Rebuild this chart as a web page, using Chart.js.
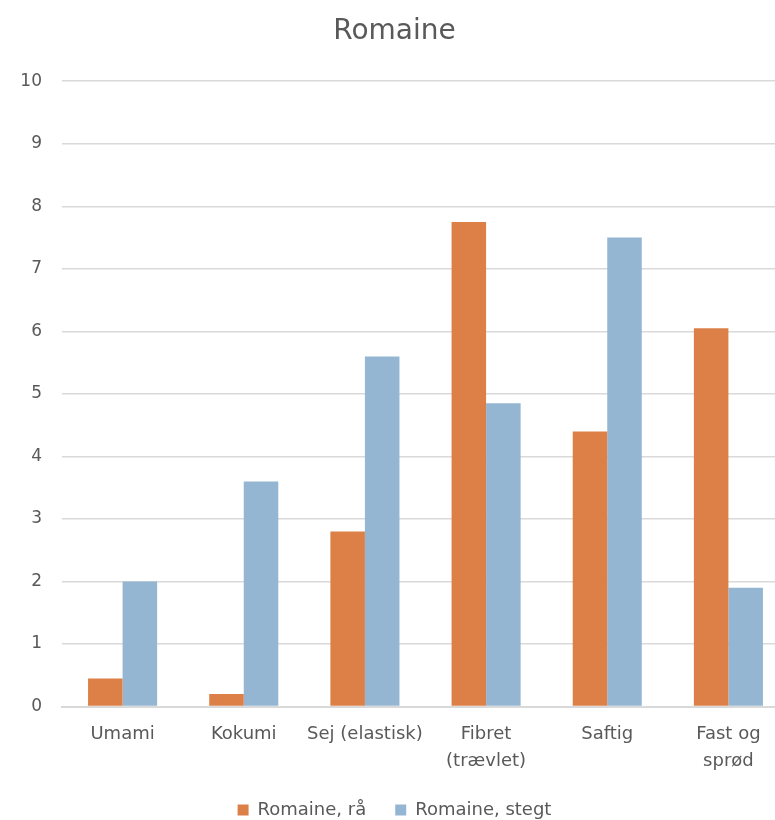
<!DOCTYPE html>
<html>
<head>
<meta charset="utf-8">
<script src="https://cdn.jsdelivr.net/npm/chart.js@4"></script>
<style>
  html, body { margin: 0; padding: 0; background: #fff; overflow: hidden; }
  #wrap { width: 814px; height: 820px; }
</style>
</head>
<body>
<div id="wrap"><canvas id="chart"></canvas></div>
<script>
  'use strict';

  var categories = ['Umami', 'Kokumi', 'Sej (elastisk)', ['Fibret', '(trævlet)'], 'Saftig', ['Fast og', 'sprød']];
  var seriesNames = ['Romaine, rå', 'Romaine, stegt'];
  var raw = [0.45, 0.2, 2.8, 7.75, 4.4, 6.05];
  var fried = [2.0, 3.6, 5.6, 4.85, 7.5, 1.9];
  var yTicks = [0, 1, 2, 3, 4, 5, 6, 7, 8, 9, 10];

  var textColor = '#595959';
  var gridColor = '#d9d9d9';
  var fontFamily = '"DejaVu Sans", sans-serif';

  Chart.defaults.font.family = fontFamily;
  Chart.defaults.color = textColor;

  new Chart(document.getElementById('chart'), {
    type: 'bar',
    data: {
      labels: categories,
      datasets: [{
        label: seriesNames[0],
        data: raw,
        backgroundColor: '#dd8047',
        borderWidth: 0,
        categoryPercentage: 0.57,
        barPercentage: 1
      }, {
        label: seriesNames[1],
        data: fried,
        backgroundColor: '#94b6d2',
        borderWidth: 0,
        categoryPercentage: 0.57,
        barPercentage: 1
      }]
    },
    options: {
      responsive: true,
      maintainAspectRatio: false,
      animation: false,
      // legend sits low, close to the bottom edge
      layout: { padding: { left: 0, right: 25, top: 0, bottom: -9 } },
      plugins: {
        title: {
          display: true,
          text: 'Romaine',
          color: textColor,
          font: { size: 28, weight: 'normal' },
          padding: { top: 15, bottom: 32.6 }
        },
        legend: {
          position: 'bottom',
          labels: {
            color: textColor,
            font: { size: 18 },
            boxWidth: 11,
            boxHeight: 11,
            padding: 29
          }
        },
        tooltip: { enabled: false }
      },
      scales: {
        x: {
          afterFit: function (axis) { axis.height = 65.4; },
          grid: { display: false },
          border: { color: gridColor, width: 2 },
          ticks: { color: textColor, font: { size: 18, lineHeight: 1.5 }, padding: 6, maxRotation: 0, autoSkip: false }
        },
        y: {
          min: 0,
          max: 10,
          afterBuildTicks: function (axis) {
            axis.ticks = yTicks.map(function (v) { return { value: v }; });
          },
          afterFit: function (axis) { axis.width = 62; },
          grid: { color: gridColor, lineWidth: 1.5, drawTicks: false },
          border: { display: false },
          ticks: { color: textColor, font: { size: 17 }, padding: 20 }
        }
      }
    }
  });
</script>
</body>
</html>
